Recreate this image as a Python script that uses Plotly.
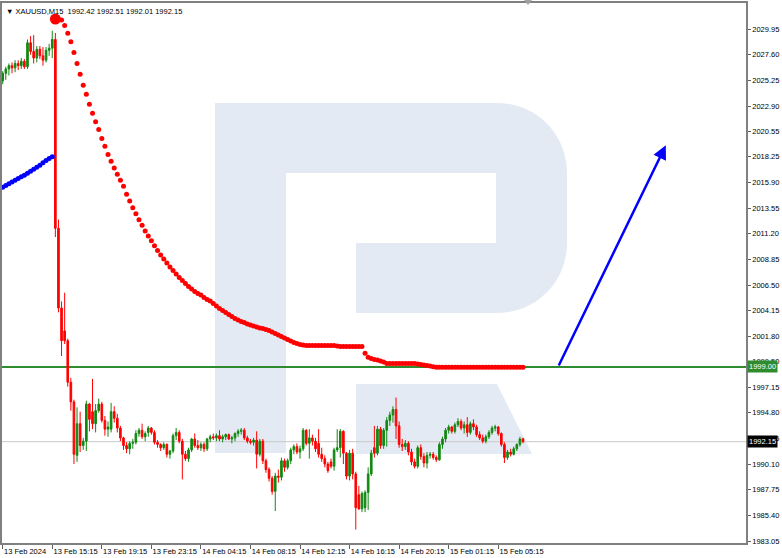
import plotly.graph_objects as go

# ---------------- data ----------------
opens = [2025.2, 2025.9, 2026.3, 2026.6, 2026.4, 2026.8, 2026.6, 2027.0, 2026.5, 2028.7,
         2027.9, 2027.3, 2028.1, 2027.5, 2027.1, 2028.0, 2028.2, 2029.0, 2011.7, 2004.4,
         2002.3, 2001.4, 1997.6, 1995.8, 1990.9, 1993.8, 1991.8, 1992.2, 1995.6, 1994.9,
         1993.8, 1995.0, 1995.6, 1994.1, 1993.3, 1993.3, 1994.9, 1994.3, 1993.4, 1992.5,
         1991.8, 1991.5, 1992.0, 1992.1, 1992.9, 1993.2, 1992.6, 1993.0, 1993.4, 1993.0,
         1992.1, 1991.9, 1991.6, 1991.9, 1991.0, 1991.3, 1992.7, 1993.0, 1992.2, 1991.0,
         1990.6, 1991.4, 1992.4, 1991.8, 1991.6, 1991.9, 1991.5, 1992.4, 1992.6, 1992.5,
         1992.7, 1992.4, 1992.6, 1992.8, 1992.4, 1992.5, 1992.9, 1993.1, 1993.2, 1992.5,
         1992.2, 1992.1, 1992.3, 1991.0, 1992.2, 1990.4, 1989.6, 1988.8, 1987.6, 1989.0,
         1988.9, 1990.4, 1989.8, 1990.4, 1991.4, 1991.7, 1991.2, 1991.5, 1993.2, 1992.0,
         1992.5, 1992.2, 1992.0, 1991.0, 1990.6, 1990.1, 1990.3, 1989.9, 1991.4, 1991.6,
         1993.1, 1991.1, 1989.0, 1991.1, 1989.2, 1987.3, 1986.0, 1986.1, 1987.5, 1989.2,
         1991.6, 1991.1, 1993.3, 1991.8, 1993.2, 1994.1, 1994.6, 1995.1, 1993.6, 1991.9,
         1991.7, 1992.0, 1991.2, 1990.3, 1989.9, 1991.6, 1990.8, 1990.2, 1990.9, 1991.0,
         1990.7, 1990.5, 1991.9, 1992.4, 1993.2, 1993.5, 1993.1, 1993.7, 1994.0, 1993.4,
         1993.7, 1993.0, 1993.8, 1993.5, 1992.8, 1992.5, 1992.2, 1992.6, 1993.0, 1993.4,
         1993.5, 1992.9, 1991.9, 1990.7, 1991.2, 1991.0, 1991.5, 1991.9, 1992.42]
highs = [2026.1, 2026.5, 2026.8, 2026.9, 2027.1, 2027.1, 2027.3, 2027.2, 2029.0, 2029.3,
         2029.4, 2028.4, 2028.4, 2028.3, 2028.3, 2028.6, 2029.8, 2029.6, 2012.5, 2005.0,
         2005.8, 2001.6, 1998.0, 1996.0, 1995.3, 1994.9, 1992.5, 1995.9, 1995.7, 1997.9,
         1995.6, 1996.1, 1995.8, 1994.5, 1994.0, 1995.7, 1995.4, 1994.7, 1993.6, 1992.6,
         1992.1, 1992.2, 1992.4, 1993.2, 1993.4, 1993.8, 1993.1, 1993.6, 1993.5, 1993.2,
         1992.3, 1992.0, 1992.1, 1992.0, 1991.4, 1992.9, 1993.4, 1993.2, 1992.4, 1991.3,
         1991.6, 1992.5, 1992.9, 1992.3, 1992.1, 1992.1, 1992.5, 1992.8, 1992.9, 1992.9,
         1993.2, 1992.8, 1992.9, 1992.9, 1992.7, 1993.0, 1993.3, 1993.4, 1993.4, 1992.7,
         1992.4, 1992.5, 1993.1, 1992.4, 1992.4, 1990.6, 1989.8, 1989.0, 1989.3, 1989.6,
         1990.7, 1990.6, 1990.6, 1991.6, 1991.9, 1992.0, 1991.8, 1993.4, 1993.3, 1993.3,
         1992.8, 1992.5, 1993.3, 1991.6, 1990.9, 1990.3, 1990.6, 1991.6, 1993.3, 1993.3,
         1993.2, 1991.2, 1991.4, 1991.5, 1989.4, 1988.1, 1987.6, 1987.7, 1989.8, 1991.4,
         1993.6, 1993.6, 1993.5, 1993.4, 1994.4, 1994.9, 1995.4, 1996.2, 1994.0, 1992.4,
         1992.3, 1992.2, 1991.5, 1990.6, 1991.8, 1991.9, 1991.1, 1991.2, 1991.2, 1991.2,
         1990.9, 1992.1, 1992.6, 1993.4, 1993.7, 1993.6, 1993.9, 1994.3, 1994.2, 1994.0,
         1994.4, 1994.0, 1994.2, 1993.7, 1993.1, 1992.8, 1992.8, 1993.2, 1993.6, 1993.7,
         1993.6, 1993.0, 1992.1, 1991.4, 1991.5, 1991.7, 1992.0, 1992.6, 1992.51]
lows = [2024.9, 2025.3, 2025.7, 2025.9, 2026.0, 2026.2, 2026.3, 2026.3, 2026.3, 2027.6,
        2026.8, 2026.9, 2027.2, 2026.6, 2026.9, 2027.5, 2027.3, 2010.9, 2004.0, 2000.0,
        2001.1, 1997.2, 1995.0, 1990.1, 1990.3, 1991.2, 1991.4, 1991.3, 1993.1, 1993.3,
        1993.0, 1994.8, 1993.9, 1992.7, 1992.6, 1993.0, 1993.9, 1993.0, 1992.2, 1991.4,
        1991.1, 1991.0, 1991.5, 1991.9, 1992.6, 1992.4, 1992.2, 1992.6, 1992.8, 1991.9,
        1991.6, 1991.3, 1991.4, 1990.7, 1990.6, 1991.1, 1992.3, 1992.0, 1988.7, 1990.4,
        1990.3, 1991.2, 1991.6, 1991.4, 1991.3, 1991.2, 1991.3, 1992.1, 1992.3, 1992.2,
        1992.2, 1992.1, 1992.3, 1992.3, 1992.0, 1992.2, 1992.6, 1992.8, 1992.3, 1992.0,
        1991.9, 1991.8, 1989.7, 1990.8, 1990.1, 1989.3, 1988.5, 1987.3, 1985.8, 1988.4,
        1988.6, 1989.4, 1989.6, 1990.1, 1991.0, 1991.0, 1990.6, 1991.3, 1991.8, 1990.6,
        1991.8, 1991.2, 1990.7, 1990.3, 1989.8, 1989.3, 1989.7, 1989.5, 1991.2, 1990.7,
        1990.1, 1988.7, 1988.6, 1988.7, 1984.1, 1985.9, 1985.7, 1985.7, 1985.9, 1989.0,
        1990.7, 1990.9, 1991.5, 1991.5, 1991.7, 1993.6, 1993.9, 1992.4, 1991.6, 1991.3,
        1991.4, 1990.9, 1990.0, 1989.7, 1989.7, 1990.5, 1989.8, 1989.7, 1990.6, 1990.5,
        1990.3, 1990.4, 1991.5, 1992.1, 1992.9, 1992.9, 1992.9, 1993.5, 1993.2, 1992.9,
        1992.6, 1992.8, 1993.2, 1992.6, 1992.3, 1992.0, 1992.0, 1992.4, 1992.8, 1993.1,
        1992.7, 1991.7, 1990.2, 1990.5, 1990.8, 1990.9, 1991.3, 1991.7, 1992.01]
closes = [2025.9, 2026.3, 2026.6, 2026.4, 2026.8, 2026.6, 2027.0, 2026.5, 2028.7, 2027.9,
          2027.3, 2028.1, 2027.5, 2027.1, 2028.0, 2028.2, 2029.0, 2011.7, 2004.4, 2001.4,
          2001.4, 1997.6, 1995.8, 1991.0, 1993.8, 1991.8, 1992.2, 1995.6, 1994.2, 1993.8,
          1995.0, 1995.6, 1994.1, 1993.3, 1993.5, 1994.9, 1994.3, 1993.4, 1992.5, 1991.8,
          1991.5, 1992.0, 1992.1, 1992.9, 1993.2, 1992.6, 1992.9, 1993.4, 1993.0, 1992.1,
          1991.9, 1991.6, 1991.9, 1991.0, 1991.3, 1992.7, 1993.0, 1992.2, 1991.0, 1990.6,
          1991.4, 1992.4, 1991.8, 1991.6, 1991.9, 1991.5, 1992.4, 1992.6, 1992.5, 1992.7,
          1992.4, 1992.6, 1992.8, 1992.4, 1992.5, 1992.9, 1993.1, 1993.2, 1992.5, 1992.2,
          1992.1, 1992.3, 1991.0, 1992.2, 1990.4, 1989.6, 1988.8, 1987.6, 1989.0, 1988.9,
          1990.4, 1989.8, 1990.4, 1991.4, 1991.7, 1991.2, 1991.5, 1993.2, 1992.0, 1992.5,
          1992.2, 1991.5, 1991.0, 1990.6, 1990.1, 1989.5, 1989.9, 1991.4, 1991.6, 1993.1,
          1991.1, 1989.0, 1991.1, 1989.2, 1986.1, 1986.0, 1987.4, 1987.5, 1989.2, 1991.1,
          1991.1, 1993.3, 1991.8, 1993.2, 1994.1, 1994.6, 1995.1, 1993.6, 1991.9, 1991.7,
          1992.0, 1991.2, 1990.3, 1989.9, 1991.6, 1990.8, 1990.2, 1990.9, 1991.0, 1990.7,
          1990.5, 1991.9, 1992.4, 1993.2, 1993.5, 1993.1, 1993.7, 1994.0, 1993.4, 1993.7,
          1993.0, 1993.8, 1993.5, 1992.8, 1992.5, 1992.2, 1992.6, 1993.0, 1993.4, 1993.5,
          1992.9, 1991.9, 1990.7, 1991.2, 1991.0, 1991.5, 1991.9, 1992.4, 1992.15]
bars = list(range(len(opens)))

# blue dotted indicator (bars 0..16)
blue_start = 0
blue_vals = [2015.45, 2015.62, 2015.78, 2015.95, 2016.11, 2016.26, 2016.42, 2016.57, 2016.74,
             2016.92, 2017.11, 2017.29, 2017.47, 2017.70, 2017.90, 2018.09, 2018.25]

# red dotted indicator (bars 17..168)
red_start = 17
red_vals = [2030.87, 2030.85, 2030.78, 2030.29, 2029.56, 2028.78, 2027.81, 2026.80, 2025.82, 2024.81,
            2023.99, 2023.07, 2022.24, 2021.45, 2020.75, 2019.92, 2019.22, 2018.45, 2017.84, 2017.22,
            2016.65, 2016.10, 2015.55, 2014.81, 2014.20, 2013.59, 2013.04, 2012.49, 2011.97, 2011.46,
            2011.00, 2010.55, 2010.09, 2009.67, 2009.26, 2008.89, 2008.53, 2008.16, 2007.84, 2007.52,
            2007.20, 2006.92, 2006.65, 2006.37, 2006.14, 2005.91, 2005.73, 2005.59, 2005.36, 2005.18,
            2005.04, 2004.81, 2004.58, 2004.35, 2004.17, 2003.99, 2003.80, 2003.62, 2003.44, 2003.30,
            2003.16, 2003.07, 2002.93, 2002.84, 2002.75, 2002.66, 2002.57, 2002.52, 2002.43, 2002.34,
            2002.20, 2002.06, 2001.92, 2001.79, 2001.65, 2001.51, 2001.37, 2001.23, 2001.14, 2001.05,
            2001.01, 2000.96, 2000.96, 2000.96, 2000.96, 2000.96, 2000.96, 2000.96, 2000.96, 2000.96,
            2000.96, 2000.91, 2000.87, 2000.87, 2000.87, 2000.87, 2000.87, 2000.87, 2000.87, 2000.87,
            2000.25, 1999.89, 1999.77, 1999.67, 1999.63, 1999.54, 1999.45, 1999.31, 1999.31, 1999.31,
            1999.31, 1999.31, 1999.31, 1999.31, 1999.31, 1999.31, 1999.31, 1999.26, 1999.22, 1999.17,
            1999.13, 1999.08, 1999.01, 1998.97, 1998.97, 1998.97, 1998.97, 1998.97, 1998.97, 1998.97,
            1998.97, 1998.97, 1998.97, 1998.97, 1998.97, 1998.97, 1998.97, 1998.97, 1998.97, 1998.97,
            1998.97, 1998.97, 1998.97, 1998.97, 1998.97, 1998.97, 1998.97, 1998.97, 1998.97, 1998.97,
            1998.97, 1998.97]

x_tick_bars = [0, 16, 32, 48, 64, 80, 96, 112, 128, 144, 160]
x_tick_labels = ["13 Feb 2024", "13 Feb 15:15", "13 Feb 19:15", "13 Feb 23:15", "14 Feb 04:15",
                 "14 Feb 08:15", "14 Feb 12:15", "14 Feb 16:15", "14 Feb 20:15", "15 Feb 01:15",
                 "15 Feb 05:15"]
y_tick_labels = ["2029.95", "2027.60", "2025.25", "2022.90", "2020.55", "2018.25", "2015.90",
                 "2013.55", "2011.20", "2008.85", "2006.50", "2004.15", "2001.80", "1999.50",
                 "1997.15", "1994.80", "1992.45", "1990.10", "1987.75", "1985.40", "1983.05"]

level_price = 1999.00
last_price = 1992.15
header_text = "▼ XAUUSD,M15\u00a0\u00a01992.42 1992.51 1992.01 1992.15"
arrow_bars = [179.3, 214.1]
arrow_prices = [1999.0, 2019.3]

# ---------------- layout constants ----------------
W, H = 782, 558
ML, MR, MT, MB = 2, 36, 3, 15
PW, PH = W - ML - MR, H - MT - MB
X_RANGE = [-0.23, 240.0]
Y_RANGE = [1982.87, 2032.34]

GREEN = "#118811"
RED = "#ff0000"
BLUE = "#0000ff"
LEVEL_GREEN = "#2e8b2e"
WM = "#e4eaf3"
FONT = "Liberation Sans, Arial, DejaVu Sans"


def P(px, py):
    return (px - ML) / PW, 1 - (py - MT) / PH


def path(points):
    s = ""
    for i, item in enumerate(points):
        if item[0] == "C":
            (_, a, b, c) = item
            pa, pb, pc = P(*a), P(*b), P(*c)
            s += f" C{pa[0]:.5f},{pa[1]:.5f} {pb[0]:.5f},{pb[1]:.5f} {pc[0]:.5f},{pc[1]:.5f}"
        else:
            x, y = P(*item)
            s += (" M" if i == 0 else " L") + f"{x:.5f},{y:.5f}"
    return s.strip() + " Z"


fig = go.Figure()

fig.add_trace(go.Candlestick(
    x=bars, open=opens, high=highs, low=lows, close=closes,
    increasing=dict(line=dict(color=GREEN, width=1), fillcolor=GREEN),
    decreasing=dict(line=dict(color=RED, width=1), fillcolor=RED),
    whiskerwidth=0, hoverinfo="skip", showlegend=False,
))

fig.add_trace(go.Scatter(
    x=[blue_start + i for i in range(len(blue_vals))], y=blue_vals, mode="markers",
    marker=dict(color=BLUE, size=5), hoverinfo="skip", showlegend=False,
))
fig.add_trace(go.Scatter(
    x=[red_start + i for i in range(len(red_vals))], y=red_vals, mode="markers",
    marker=dict(color=RED, size=5), hoverinfo="skip", showlegend=False,
))
fig.add_trace(go.Scatter(
    x=[red_start], y=[red_vals[0]], mode="markers",
    marker=dict(color=RED, size=11), hoverinfo="skip", showlegend=False,
))

shapes = []
# watermark logo
shapes.append(dict(type="path", xref="paper", yref="paper", layer="below",
                   path=path([(215, 103), (286, 103), (286, 453), (215, 453)]),
                   fillcolor=WM, line=dict(width=0)))
shapes.append(dict(type="path", xref="paper", yref="paper", layer="below",
                   path=path([(286, 103), (497, 103),
                              ("C", (536, 103), (567, 134), (567, 173)),
                              (567, 243),
                              ("C", (567, 282), (536, 313), (497, 313)),
                              (356, 313), (356, 243), (496, 243), (496, 173), (286, 173)]),
                   fillcolor=WM, line=dict(width=0)))
shapes.append(dict(type="path", xref="paper", yref="paper", layer="below",
                   path=path([(356, 384), (497, 384), (532, 454), (356, 454)]),
                   fillcolor=WM, line=dict(width=0)))
# horizontal levels
shapes.append(dict(type="line", xref="paper", yref="y", x0=0, x1=1, y0=last_price, y1=last_price,
                   layer="below", line=dict(color="#c8c8c8", width=1)))
shapes.append(dict(type="line", xref="paper", yref="y", x0=0, x1=1, y0=level_price, y1=level_price,
                   layer="below", line=dict(color=LEVEL_GREEN, width=2)))
# small shift marker at the top
tx0, ty0 = P(524, 0)
tx1, _ = P(532, 0)
tx2, ty2 = P(528, 5)
shapes.append(dict(type="path", xref="paper", yref="paper",
                   path=f"M{tx0},{ty0} L{tx1},{ty0} L{tx2},{ty2} Z",
                   fillcolor="#a0a0a0", line=dict(width=0)))

annotations = [
    dict(x=0, y=1, xref="paper", yref="paper", xanchor="left", yanchor="top",
         xshift=2, yshift=-2, text=header_text, showarrow=False,
         font=dict(family=FONT, size=7.5, color="#000000")),
    dict(x=1, y=level_price, xref="paper", yref="y", xanchor="left", yanchor="middle",
         xshift=1, text="1999.00", showarrow=False, bgcolor=LEVEL_GREEN, borderpad=1,
         font=dict(family=FONT, size=7.5, color="#ffffff")),
    dict(x=1, y=last_price, xref="paper", yref="y", xanchor="left", yanchor="middle",
         xshift=1, text="1992.15", showarrow=False, bgcolor="#000000", borderpad=1,
         font=dict(family=FONT, size=7.5, color="#ffffff")),
    dict(x=arrow_bars[1], y=arrow_prices[1], ax=arrow_bars[0], ay=arrow_prices[0],
         xref="x", yref="y", axref="x", ayref="y", text="", showarrow=True,
         arrowhead=2, arrowsize=1.1, arrowwidth=2.5, arrowcolor=BLUE, standoff=0),
]

fig.update_layout(
    width=W, height=H,
    margin=dict(l=ML, r=MR, t=MT, b=MB, pad=0, autoexpand=False),
    paper_bgcolor="#ffffff", plot_bgcolor="#ffffff",
    showlegend=False, hovermode=False,
    shapes=shapes, annotations=annotations,
    font=dict(family=FONT, size=7.5, color="#000000"),
    xaxis=dict(range=X_RANGE, rangeslider=dict(visible=False), showgrid=False, zeroline=False,
               tickmode="array", tickvals=x_tick_bars, ticktext=x_tick_labels,
               ticks="outside", ticklen=4, tickcolor="#606060", tickwidth=1,
               ticklabelposition="outside right", tickangle=0, automargin=False,
               showline=True, mirror=True, linecolor="#808080", linewidth=1.5,
               tickfont=dict(family=FONT, size=7.5, color="#000000"), fixedrange=True),
    yaxis=dict(range=Y_RANGE, side="right", showgrid=False, zeroline=False,
               tickmode="array", tickvals=[float(v) for v in y_tick_labels], ticktext=y_tick_labels,
               ticks="outside", ticklen=3, tickcolor="#606060", tickwidth=1, automargin=False,
               showline=True, mirror=True, linecolor="#808080", linewidth=1.5,
               tickfont=dict(family=FONT, size=7.5, color="#000000"), fixedrange=True),
    boxgap=0.25,
)

fig.write_html("out.html", config={"displayModeBar": False},
               post_script="document.body.style.margin='0';document.body.style.overflow='hidden';")
